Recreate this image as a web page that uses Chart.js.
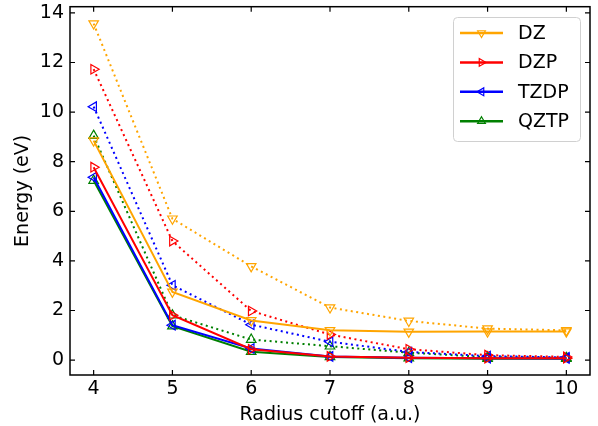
<!DOCTYPE html>
<html>
<head>
<meta charset="utf-8">
<script src="https://cdn.jsdelivr.net/npm/chart.js@4.4.0/dist/chart.umd.min.js"></script>
<style>
  html, body { margin: 0; padding: 0; background: #fff; }
  #wrap { width: 598px; height: 426px; }
</style>
</head>
<body>
<div id="wrap"><canvas id="c" width="598" height="426"></canvas></div>
<script>
// radius cutoffs (a.u.)
const radii = [4, 5, 6, 7, 8, 9, 10];

// solid curves
const dzSolid   = [8.85, 2.75, 1.60, 1.20, 1.14, 1.15, 1.15];
const dzpSolid  = [7.78, 1.81, 0.44, 0.15, 0.10, 0.08, 0.08];
const tzdpSolid = [7.37, 1.41, 0.47, 0.15, 0.10, 0.08, 0.07];
const qztpSolid = [7.24, 1.37, 0.34, 0.13, 0.08, 0.06, 0.06];

// dotted curves
const dzDot   = [13.57, 5.70, 3.78, 2.12, 1.58, 1.27, 1.20];
const dzpDot  = [11.73, 4.80, 1.98, 1.03, 0.44, 0.20, 0.13];
const tzdpDot = [10.22, 3.02, 1.43, 0.74, 0.33, 0.16, 0.11];
const qztpDot = [9.05, 1.81, 0.83, 0.56, 0.30, 0.12, 0.09];

const yTicks = [0, 2, 4, 6, 8, 10, 12, 14];
const xTicks = radii;

const series = [
  { name: 'DZ',   color: '#FFA500', rot: 180, solid: dzSolid,   dot: dzDot },
  { name: 'DZP',  color: '#FF0000', rot: 90,  solid: dzpSolid,  dot: dzpDot },
  { name: 'TZDP', color: '#0000FF', rot: 270, solid: tzdpSolid, dot: tzdpDot },
  { name: 'QZTP', color: '#008000', rot: 0,   solid: qztpSolid, dot: qztpDot }
];

const FONT = 'DejaVu Sans';
const FSIZE = 19;

function pts(vals) {
  return radii.map((r, i) => ({ x: r, y: vals[i] }));
}

function lineSet(s, vals, dotted) {
  return {
    label: dotted ? s.name + ' dotted' : s.name,
    data: pts(vals),
    borderColor: s.color,
    borderWidth: 2,
    borderDash: dotted ? [2, 3.5] : [],
    pointStyle: 'triangle',
    pointRotation: s.rot,
    pointRadius: 5.5,
    pointBorderWidth: 1.2,
    pointBorderColor: s.color,
    pointBackgroundColor: 'rgba(0,0,0,0)',
    tension: 0
  };
}

const datasets = [];
series.forEach(s => datasets.push(lineSet(s, s.solid, false)));
series.forEach(s => datasets.push(lineSet(s, s.dot, true)));

// axes frame with inward ticks on all four sides
const framePlugin = {
  id: 'frame',
  afterDraw(chart) {
    const { ctx, chartArea: a, scales } = chart;
    ctx.save();
    ctx.strokeStyle = '#000';
    ctx.lineWidth = 1.5;
    ctx.strokeRect(a.left, a.top, a.right - a.left, a.bottom - a.top);
    ctx.lineWidth = 1.2;
    ctx.beginPath();
    xTicks.forEach(v => {
      const px = scales.x.getPixelForValue(v);
      ctx.moveTo(px, a.bottom); ctx.lineTo(px, a.bottom - 5);
      ctx.moveTo(px, a.top); ctx.lineTo(px, a.top + 5);
    });
    yTicks.forEach(v => {
      const py = scales.y.getPixelForValue(v);
      ctx.moveTo(a.left, py); ctx.lineTo(a.left + 5, py);
      ctx.moveTo(a.right, py); ctx.lineTo(a.right - 5, py);
    });
    ctx.stroke();
    ctx.restore();
  }
};

// legend: line sample with an open marker in the middle
const legendPlugin = {
  id: 'lineLegend',
  afterDraw(chart) {
    const { ctx } = chart;
    const bx = 453, by = 17, bw = 127, bh = 124;
    ctx.save();
    ctx.fillStyle = 'rgba(255,255,255,0.8)';
    ctx.strokeStyle = '#d0d0d0';
    ctx.lineWidth = 1;
    ctx.beginPath();
    ctx.roundRect(bx + 0.5, by + 0.5, bw, bh, 4);
    ctx.fill();
    ctx.stroke();
    ctx.font = FSIZE + 'px "' + FONT + '"';
    ctx.textBaseline = 'middle';
    series.forEach((s, i) => {
      const y = 33 + i * 29.4;
      ctx.strokeStyle = s.color;
      ctx.lineWidth = 2.5;
      ctx.setLineDash([]);
      ctx.beginPath();
      ctx.moveTo(460, y); ctx.lineTo(503, y);
      ctx.stroke();
      ctx.lineWidth = 1.2;
      ctx.fillStyle = 'rgba(0,0,0,0)';
      Chart.helpers.drawPoint(ctx, { pointStyle: 'triangle', rotation: s.rot, radius: 4.5, borderWidth: 1.2 }, 481.5, y);
      ctx.fillStyle = '#000';
      ctx.fillText(s.name, 518, y + 1);
    });
    ctx.restore();
  }
};

new Chart(document.getElementById('c'), {
  type: 'line',
  data: { datasets },
  plugins: [framePlugin, legendPlugin],
  options: {
    responsive: false,
    animation: false,
    layout: { padding: { top: 6, right: 8, left: 0, bottom: 0 } },
    plugins: { legend: { display: false }, tooltip: { enabled: false } },
    scales: {
      x: {
        type: 'linear',
        min: 3.7,
        max: 10.3,
        afterFit(s) { s.height = 51; s.paddingLeft = 0; s.paddingRight = 0; },
        afterBuildTicks(s) { s.ticks = xTicks.map(v => ({ value: v })); },
        grid: { display: false, drawTicks: false },
        border: { display: false },
        ticks: { color: '#000', padding: 3, font: { family: FONT, size: FSIZE } },
        title: { display: true, text: 'Radius cutoff (a.u.)', color: '#000', padding: { top: 5, bottom: 0 }, font: { family: FONT, size: FSIZE } }
      },
      y: {
        min: -0.6,
        max: 14.25,
        afterFit(s) { s.width = 70; s.paddingTop = 0; s.paddingBottom = 0; },
        afterBuildTicks(s) { s.ticks = yTicks.map(v => ({ value: v })); },
        grid: { display: false, drawTicks: false },
        border: { display: false },
        ticks: { color: '#000', padding: 6, font: { family: FONT, size: FSIZE } },
        title: { display: true, text: 'Energy (eV)', color: '#000', padding: { top: 12, bottom: 0 }, font: { family: FONT, size: FSIZE } }
      }
    }
  }
});
</script>
</body>
</html>
